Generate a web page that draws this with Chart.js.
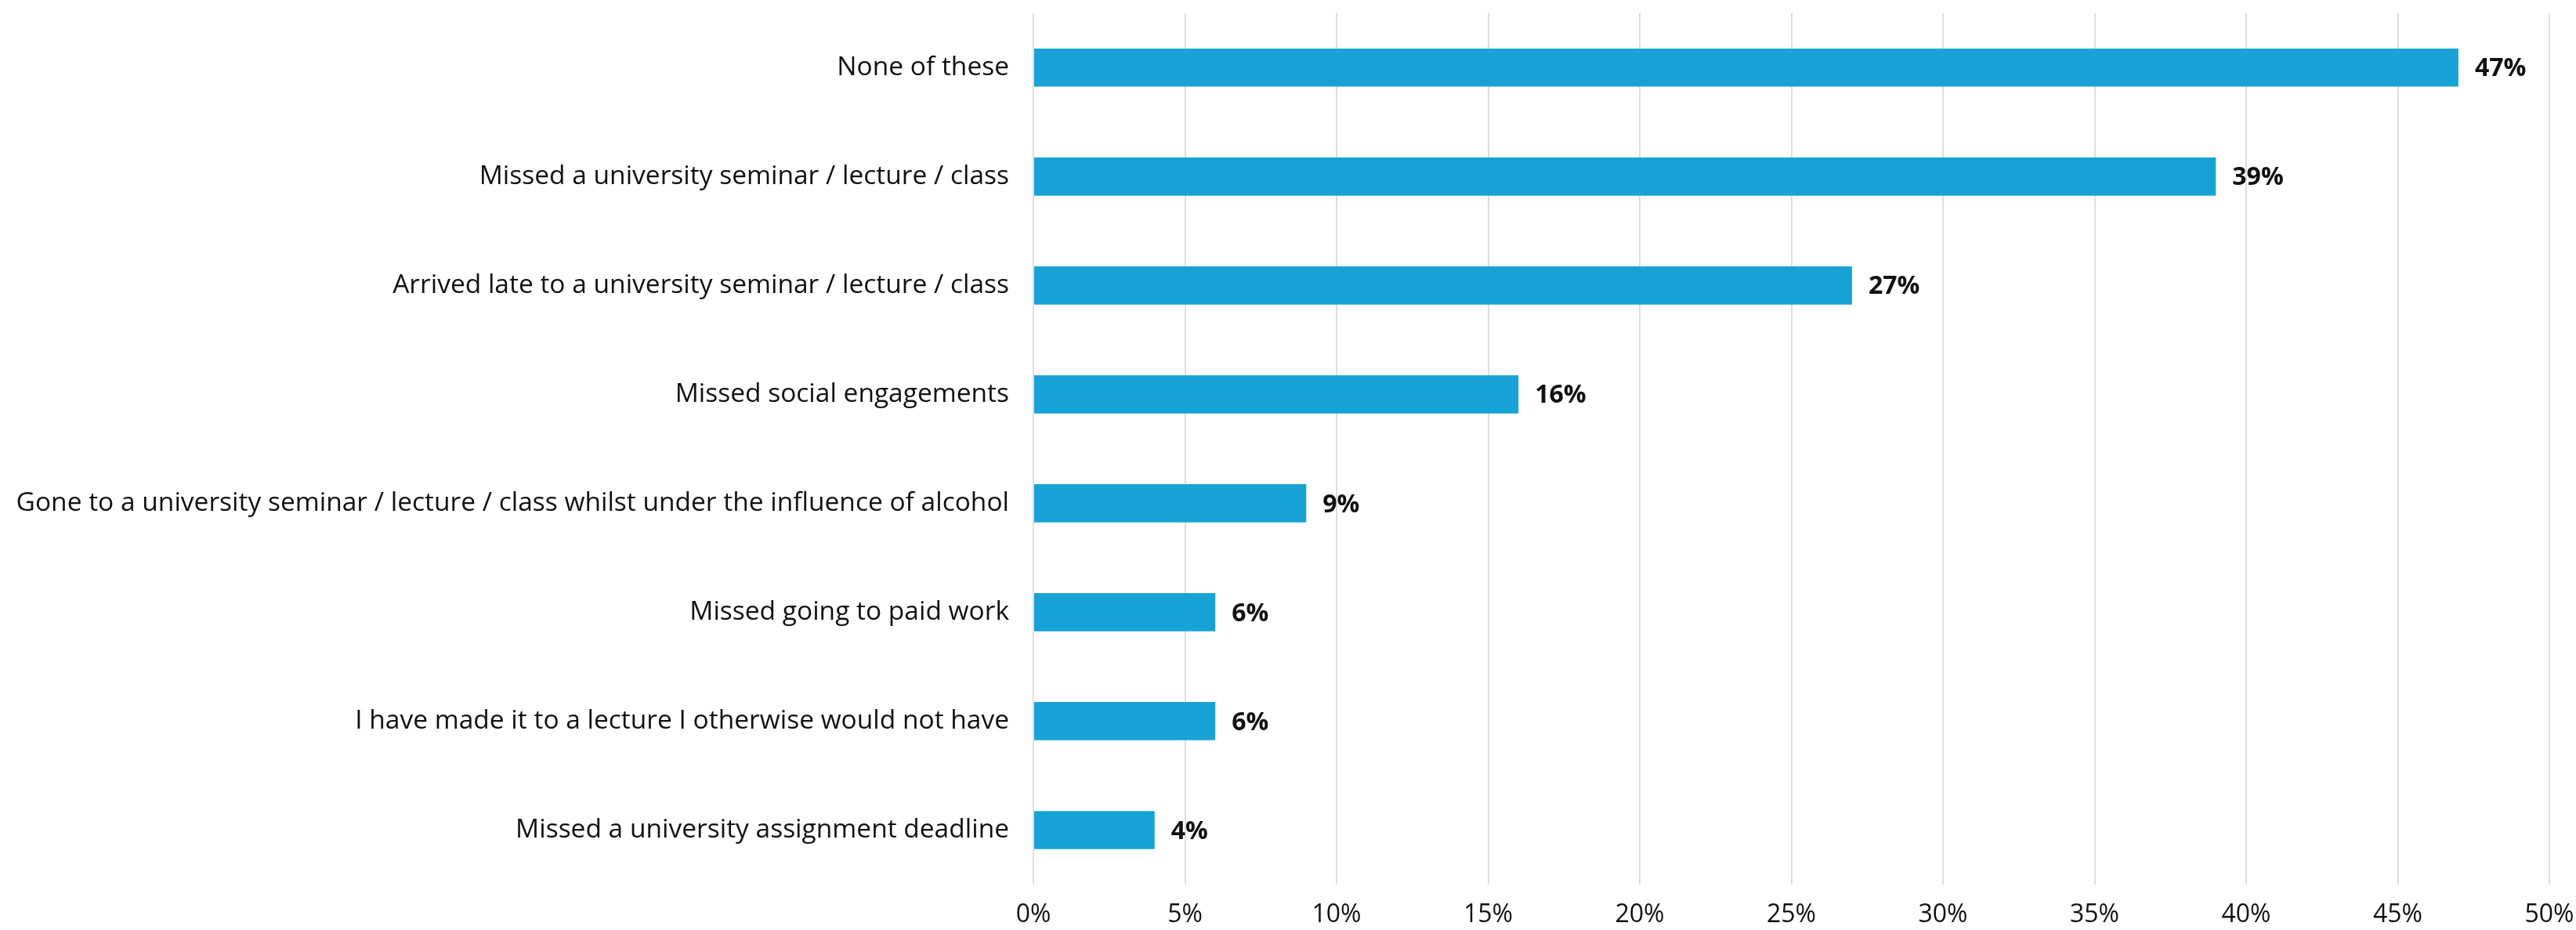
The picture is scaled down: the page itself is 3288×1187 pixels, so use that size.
<!DOCTYPE html>
<html><head><meta charset="utf-8">
<script src="https://cdn.jsdelivr.net/npm/chart.js@4.4.0/dist/chart.umd.min.js"></script>
<style>html,body{margin:0;padding:0;background:#fff}#wrap{width:3288px;height:1187px}</style>
</head><body><div id="wrap"><canvas id="c" width="3288" height="1187"></canvas></div>
<script>
const categories = [
  "None of these",
  "Missed a university seminar / lecture / class",
  "Arrived late to a university seminar / lecture / class",
  "Missed social engagements",
  "Gone to a university seminar / lecture / class whilst under the influence of alcohol",
  "Missed going to paid work",
  "I have made it to a lecture I otherwise would not have",
  "Missed a university assignment deadline"
];
const values = [47, 39, 27, 16, 9, 6, 6, 4];
const xTicks = [0, 5, 10, 15, 20, 25, 30, 35, 40, 45, 50];

const FONT = "'Open Sans', Lato, sans-serif";
const labelPlugin = {
  id: 'valueLabels',
  afterDatasetsDraw(chart) {
    const ctx = chart.ctx;
    const meta = chart.getDatasetMeta(0);
    ctx.save();
    ctx.font = "bold 32px " + FONT;
    ctx.fillStyle = "#111";
    ctx.textAlign = "left";
    ctx.textBaseline = "middle";
    meta.data.forEach((bar, i) => {
      ctx.fillText(values[i] + "%", bar.x + 21, bar.y + 2);
    });
    ctx.restore();
  }
};

new Chart(document.getElementById('c'), {
  type: 'bar',
  data: {
    labels: categories,
    datasets: [{
      data: values,
      backgroundColor: '#17A3D6',
      borderWidth: 0,
      categoryPercentage: 0.35,
      barPercentage: 1.0
    }]
  },
  options: {
    indexAxis: 'y',
    responsive: false,
    animation: false,
    maintainAspectRatio: false,
    layout: { padding: { top: 0, right: 34, left: 0, bottom: 0 } },
    plugins: { legend: { display: false }, tooltip: { enabled: false } },
    scales: {
      x: {
        min: 0, max: 50,
        afterBuildTicks(scale) { scale.ticks = xTicks.map(v => ({ value: v })); },
        afterFit(scale) { scale.height = 58; },
        grid: { color: '#dcdedf', lineWidth: 2, drawTicks: true, tickLength: 20, tickColor: 'rgba(0,0,0,0)' },
        border: { display: false },
        ticks: {
          padding: 0,
          color: '#111',
          font: { family: FONT, size: 32 },
          callback: v => v + '%'
        }
      },
      y: {
        afterFit(scale) { scale.width = 1319; },
        grid: { display: false, drawTicks: true, tickLength: 31 },
        border: { display: false },
        ticks: {
          padding: 0,
          color: '#111',
          font: { family: FONT, size: 33.5, lineHeight: 1.0 }
        }
      }
    }
  },
  plugins: [labelPlugin]
});
</script>
</body></html>
